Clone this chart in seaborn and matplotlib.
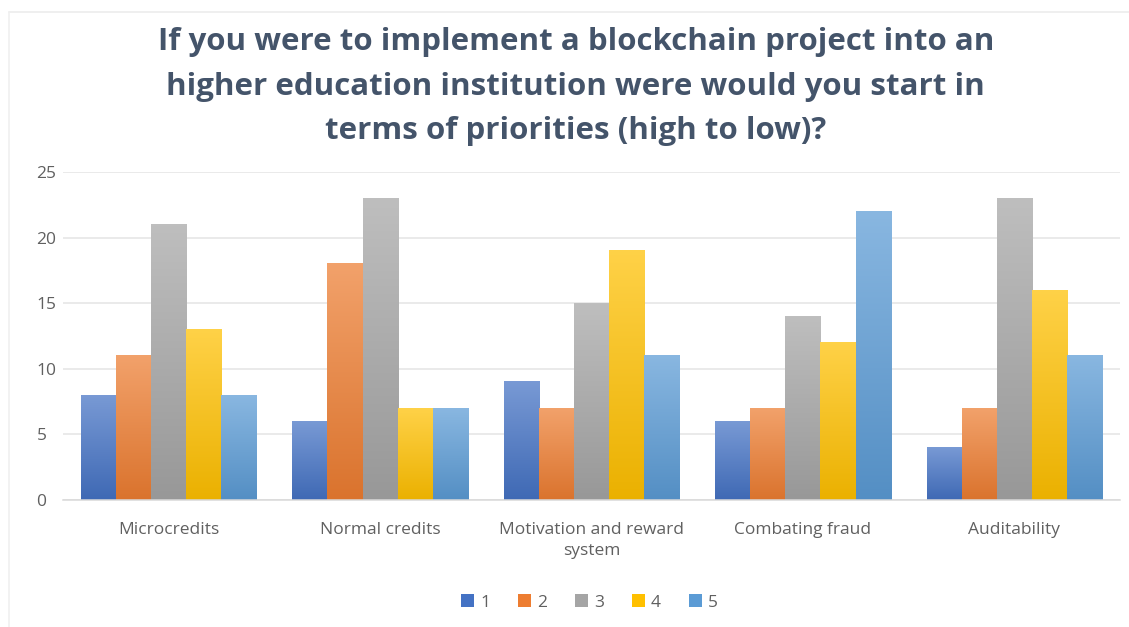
import numpy as np
import pandas as pd
import matplotlib
matplotlib.use("Agg")
import matplotlib.pyplot as plt
import matplotlib.colors as mcolors
from matplotlib.lines import Line2D
import seaborn as sns

# Survey answers: number of respondents per priority rank
categories = ["Microcredits", "Normal credits", "Motivation and reward\nsystem",
              "Combating fraud", "Auditability"]
ranks = ["1", "2", "3", "4", "5"]
rank1 = [8, 6, 9, 6, 4]
rank2 = [11, 18, 7, 7, 7]
rank3 = [21, 23, 15, 14, 23]
rank4 = [13, 7, 19, 12, 16]
rank5 = [8, 7, 11, 22, 11]
y_ticks = [0, 5, 10, 15, 20, 25]

title = ("If you were to implement a blockchain project into an\n"
         "higher education institution were would you start in\n"
         "terms of priorities (high to low)?")

palette = ["#4472C4", "#ED7D31", "#A5A5A5", "#FFC000", "#5B9BD5"]

df = pd.DataFrame({
    "category": np.repeat(categories, len(ranks)),
    "rank": ranks * len(categories),
    "count": np.ravel(np.column_stack([rank1, rank2, rank3, rank4, rank5])),
})

sns.set_theme(style="white")
plt.rcParams["font.family"] = ["Open Sans", "DejaVu Sans"]

fig = plt.figure(figsize=(11.29, 6.27), dpi=100)
ax = fig.add_axes([0.0558, 0.2026, 0.9362, 0.5231])

sns.barplot(data=df, x="category", y="count", hue="rank", hue_order=ranks,
            order=categories, palette=palette, width=0.83, gap=0,
            saturation=1, ax=ax, legend=False, zorder=2)


def shade(color, amount):
    c = np.array(mcolors.to_rgb(color))
    if amount > 0:
        return c + (1 - c) * amount
    return c * (1 + amount)


# vertical gradient fill on each bar: lighter at the top, deeper at the base
for container, col in zip(ax.containers, palette):
    top = shade(col, 0.28)
    bottom = shade(col, -0.08)
    grad = np.linspace(0, 1, 256)[:, None, None]
    img = bottom[None, None, :] * (1 - grad) + top[None, None, :] * grad
    for patch in container.patches:
        x0, y0 = patch.get_x(), patch.get_y()
        w, h = patch.get_width(), patch.get_height()
        patch.set_facecolor("none")
        patch.set_edgecolor("none")
        ax.imshow(img, extent=(x0, x0 + w, y0, y0 + h), origin="lower",
                  aspect="auto", zorder=2, interpolation="bilinear")

ax.set_xlim(-0.5, len(categories) - 0.5)
ax.set_ylim(0, 25)
ax.set_yticks(y_ticks)

ax.yaxis.grid(True, color="#e4e4e4", linewidth=1.1, zorder=0)
ax.set_axisbelow(True)
for side in ["left", "right", "top"]:
    ax.spines[side].set_visible(False)
ax.spines["bottom"].set_color("#d9d9d9")
ax.spines["bottom"].set_linewidth(1.1)

ax.set_xlabel("")
ax.set_ylabel("")
ax.tick_params(axis="both", length=0, labelsize=12.5, labelcolor="#606060")
ax.tick_params(axis="x", pad=16)
ax.tick_params(axis="y", pad=19)
for lbl in ax.get_yticklabels():
    lbl.set_horizontalalignment("left")
for lbl in ax.get_xticklabels():
    lbl.set_linespacing(1.4)

fig.text(0.51, 0.862, title, ha="center", va="center", fontsize=22.5,
         fontweight="bold", color="#44546A", linespacing=1.62,
         family=["Open Sans", "DejaVu Sans"])

handles = [plt.Rectangle((0, 0), 1, 1, facecolor=c, edgecolor="none") for c in palette]
fig.legend(handles, ranks, loc="center", bbox_to_anchor=(0.522, 0.039), ncol=5,
           frameon=False, fontsize=12.5, handlelength=0.75, handleheight=0.75,
           columnspacing=1.6, handletextpad=0.35, labelcolor="#606060")

# faint chart-area frame along the top and left
fig.add_artist(Line2D([0.008, 1.0], [0.981, 0.981], transform=fig.transFigure,
                      color="#ececec", linewidth=1.2))
fig.add_artist(Line2D([0.008, 0.008], [0.0, 0.981], transform=fig.transFigure,
                      color="#f0f0f0", linewidth=1.2))

fig.savefig("out.png", dpi=100, facecolor="white")
